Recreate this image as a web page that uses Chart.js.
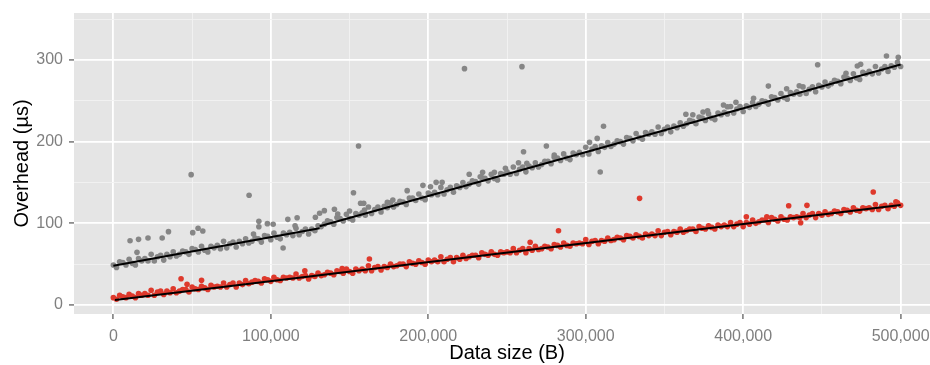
<!DOCTYPE html>
<html><head><meta charset="utf-8">
<script src="https://cdn.jsdelivr.net/npm/chart.js@4/dist/chart.umd.min.js"></script>
<style>html,body{margin:0;padding:0;background:#fff;overflow:hidden;width:930px;height:365px}canvas{display:block}</style>
</head><body><canvas id="c" width="945" height="365"></canvas>
<script>
// Data size in kB (x) for the regularly sampled runs
const sizesKB = [0,2,4,6,8,10,12,14,16,18,20,22,24,26,28,30,32,34,36,38,40,42,44,46,48,50,52,54,56,58,60,62,64,66,68,70,72,74,76,78,80,82,84,86,88,90,92,94,96,98,100,102,104,106,108,110,112,114,116,118,120,122,124,126,128,130,132,134,136,138,140,142,144,146,148,150,152,154,156,158,160,162,164,166,168,170,172,174,176,178,180,182,184,186,188,190,192,194,196,198,200,202,204,206,208,210,212,214,216,218,220,222,224,226,228,230,232,234,236,238,240,242,244,246,248,250,252,254,256,258,260,262,264,266,268,270,272,274,276,278,280,282,284,286,288,290,292,294,296,298,300,302,304,306,308,310,312,314,316,318,320,322,324,326,328,330,332,334,336,338,340,342,344,346,348,350,352,354,356,358,360,362,364,366,368,370,372,374,376,378,380,382,384,386,388,390,392,394,396,398,400,402,404,406,408,410,412,414,416,418,420,422,424,426,428,430,432,434,436,438,440,442,444,446,448,450,452,454,456,458,460,462,464,466,468,470,472,474,476,478,480,482,484,486,488,490,492,494,496,498,500];

// Overhead (µs), grey series
const greyUs = [49,46,53,52,49,56,51,49,57,54, 57,54,62,54,59,61,55,62,59,65, 60,62,66,65,62,69,68,65,72,67, 65,72,70,73,69,78,70,75,77,71, 78,75,81,76,78,82,81,77,85,84, 80,88,83,81,88,86,89,85,94,86, 90,93,87,93,91,97,
 96,99,103,102,99,107,106,103,111,106, 104,112,110,113,110,120,112,117,120,114, 121,119,125,120,123,127,126,123,131,131, 128,136,131,129,137,135,138,135,144,136, 141,144,138,146,144,150,145,148,152,151, 148,156,155,152,160,155,153,161,160,163, 160,169,161,166,169,163,170,168,174,169, 172,176,176,173,181,180,177,185,180,178, 186,184,187,184,193,185,191,194,188,195, 193,199,194,197,201,200,197,205,204,201, 210,205,203,211,209,212,209,218,210,215, 218,212,219,217,223,219,222,226,225,222, 230,229,226,234,229,227,235,233,236,234, 243,235,240,243,237,244,242,248,243,246, 250,249,246,255,254,251,259,254,252,260, 258,261,258,267,259,264,267,261,269,267, 273,268,271,275,274,271,279,278,275,283, 278,276,285,283,286,283,292,284,289,292, 286,293,291,297,292];

// Overhead (µs), red series
const redUs = [9,7,12,10,9,13,11,9,14,12, 14,12,18,12,16,17,13,17,15,20, 15,17,19,19,16,22,20,19,23,21, 19,24,22,23,22,27,22,25,27,22, 27,25,30,26,28,30,29,27,32,31, 29,34,31,30,34,33,34,33,38,33, 35,36,32,36,35,39,36,37,40,39, 37,42,41,39,44,41,39,44,42,44, 42,48,42,46,47,43,47,46,50,47, 48,50,50,47,53,51,50,54,52,50, 55,53,55,53,59,53,56,58,53,58, 56,61,57,59,61,61,58,64,62,61, 65,62,61,65,64,65,64,69,64,67, 69,64,69,67,72,68,69,72,71,69, 74,73,71,76,73,72,76,75,76,75, 80,74,78,79,75,79,78,82,79,80, 83,82,80,85,84,82,86,84,82,87, 85,87,85,91,85,89,90,86,90,89, 93,89,91,93,93,90,96,94,93,97, 95,93,98,96,98,96,101,96,99,101, 96,101,99,104,100,102,104,104,101,107, 105,103,108,105,104,108,107,108,107,112, 107,110,112,107,112,110,114,111,112,115, 114,112,117,116,114,119,116,115,119,118, 119,117,123,117,121,122,118,122,121,125, 122];

// Off-pattern runs (scattered points)
const greyExtraKB = [10.6,15,16,22,31,35,49.4,50.4,53.8,56.8,86.2,89,92.4,92.4,97.8,101.5,107.8,110.8,115.4,116.7,128.3,131,134,140.4,142.5,150,152.5,155.7,157,159,159.5,174,177.5,186.6,196.6,201.4,205,208.8,223,226,233,234.5,242,249,257.3,259.5,260.5,262.6,275,280,302.4,307.3,309.2,311.3,363.6,368,374.5,377.4,387.5,390,395.4,406.6,416,427.6,435.6,447.3,465.3,472.5,474.6,491,498.5];
const greyExtraUs = [78.7,64.5,80.4,82,82,89.8,159.6,88.6,94,90.6,134.3,86.9,102.5,95.9,99.6,98.8,69.8,104.9,97.1,106.9,107.4,112.3,115.5,117.2,111.4,115.1,137.5,194.7,124.5,124.5,116.3,125.7,128.6,140,146.5,144.8,150.2,150.2,289.4,160,157.1,162.5,162.5,167.3,174.2,291.8,187.7,173.5,194.7,183.7,199.2,204,162.8,218.8,233.5,233,236.3,237.9,244.9,242.8,248.2,253,268,264.8,268.5,294.2,283.7,292.6,294.7,304.9,303.3];
const redExtraKB = [43,46.8,56,121.6,145.3,162.6,264.7,282.7,334.2,402,415,428.9,436.5,440.5,482.6,497];
const redExtraUs = [32.2,25.3,30.2,42,44.5,56.3,76.8,91,130.6,108.1,108,121.6,100.8,122,138.4,126.5];

// Fitted lines (kB, µs)
const greyFitAKB = [0,131];
const greyFitAUs = [48,94];
const greyFitBKB = [131,500];
const greyFitBUs = [96.5,294.5];
const redFitKB = [1,500];
const redFitUs = [6,122.4];

// Axis ticks
const xTickValues = [0,50000,100000,150000,200000,250000,300000,350000,400000,450000,500000];
const xTickLabels = ['0','','100,000','','200,000','','300,000','','400,000','','500,000'];
const yTickValues = [0,50,100,150,200,250,300,350];
const yTickLabels = ['0','','100','','200','','300',''];

const toPts = (xs, ys) => xs.map((x, i) => ({x: x * 1000, y: ys[i]}));

const panelBg = {
  id: 'panelBg',
  beforeDraw(chart) {
    const {ctx, chartArea: a} = chart;
    ctx.save();
    ctx.fillStyle = '#E5E5E5';
    ctx.fillRect(a.left, a.top, a.right - a.left, a.bottom - a.top);
    ctx.restore();
  }
};

const tickFont = {family: '"Liberation Sans", Arial, sans-serif', size: 16};
const titleFont = {family: '"Liberation Sans", Arial, sans-serif', size: 20};

function gridFor(values, labels) {
  const isMajor = (ctx) => {
    if (!ctx.tick) return false;
    const i = values.indexOf(ctx.tick.value);
    return i >= 0 && labels[i] !== '';
  };
  return {
    color: (ctx) => isMajor(ctx) ? '#FFFFFF' : '#F2F2F2',
    lineWidth: (ctx) => isMajor(ctx) ? 1.8 : 0.9,
    tickColor: (ctx) => isMajor(ctx) ? '#7F7F7F' : 'rgba(0,0,0,0)',
    tickWidth: 1.6,
    tickLength: 5,
    drawOnChartArea: true
  };
}

const lineStyle = {showLine: true, borderColor: '#000000', borderWidth: 2, pointRadius: 0, pointHoverRadius: 0, fill: false, tension: 0};

new Chart(document.getElementById('c'), {
  type: 'scatter',
  data: {
    datasets: [
      Object.assign({label: 'grey fit A', data: toPts(greyFitAKB, greyFitAUs), order: 0}, lineStyle),
      Object.assign({label: 'grey fit B', data: toPts(greyFitBKB, greyFitBUs), order: 0}, lineStyle),
      Object.assign({label: 'red fit', data: toPts(redFitKB, redFitUs), order: 0}, lineStyle),
      {label: 'grey', data: toPts(sizesKB, greyUs).concat(toPts(greyExtraKB, greyExtraUs)), backgroundColor: '#868686', borderWidth: 0, pointRadius: 2.8, order: 1},
      {label: 'red', data: toPts(sizesKB, redUs).concat(toPts(redExtraKB, redExtraUs)), backgroundColor: '#DE392C', borderWidth: 0, pointRadius: 2.8, order: 1}
    ]
  },
  options: {
    responsive: false,
    animation: false,
    devicePixelRatio: 1,
    layout: {padding: {top: 13, right: 5, left: 0, bottom: 0}},
    plugins: {legend: {display: false}, tooltip: {enabled: false}},
    scales: {
      x: {
        type: 'linear', min: -25000, max: 525000,
        afterBuildTicks: (axis) => { axis.ticks = xTickValues.map(v => ({value: v})); },
        afterFit: (axis) => { axis.height = 51; axis.paddingLeft = 0; axis.paddingRight = 0; },
        ticks: {
          autoSkip: false, maxRotation: 0, minRotation: 0, padding: 8,
          color: '#7F7F7F', font: tickFont,
          callback: (v) => { const i = xTickValues.indexOf(v); return i >= 0 ? xTickLabels[i] : ''; }
        },
        grid: gridFor(xTickValues, xTickLabels),
        border: {display: false},
        title: {display: true, text: 'Data size (B)', color: '#000000', font: titleFont, padding: {top: 0, bottom: 0}}
      },
      y: {
        type: 'linear', min: -11, max: 357.5,
        afterBuildTicks: (axis) => { axis.ticks = yTickValues.map(v => ({value: v})); },
        afterFit: (axis) => { axis.width = 74; axis.paddingTop = 0; axis.paddingBottom = 0; },
        ticks: {
          autoSkip: false, padding: 6,
          color: '#7F7F7F', font: tickFont,
          callback: (v) => { const i = yTickValues.indexOf(v); return i >= 0 ? yTickLabels[i] : ''; }
        },
        grid: gridFor(yTickValues, yTickLabels),
        border: {display: false},
        title: {display: true, text: 'Overhead (µs)', color: '#000000', font: titleFont, padding: {top: 10, bottom: 10}}
      }
    }
  },
  plugins: [panelBg]
});
</script>
</body></html>
